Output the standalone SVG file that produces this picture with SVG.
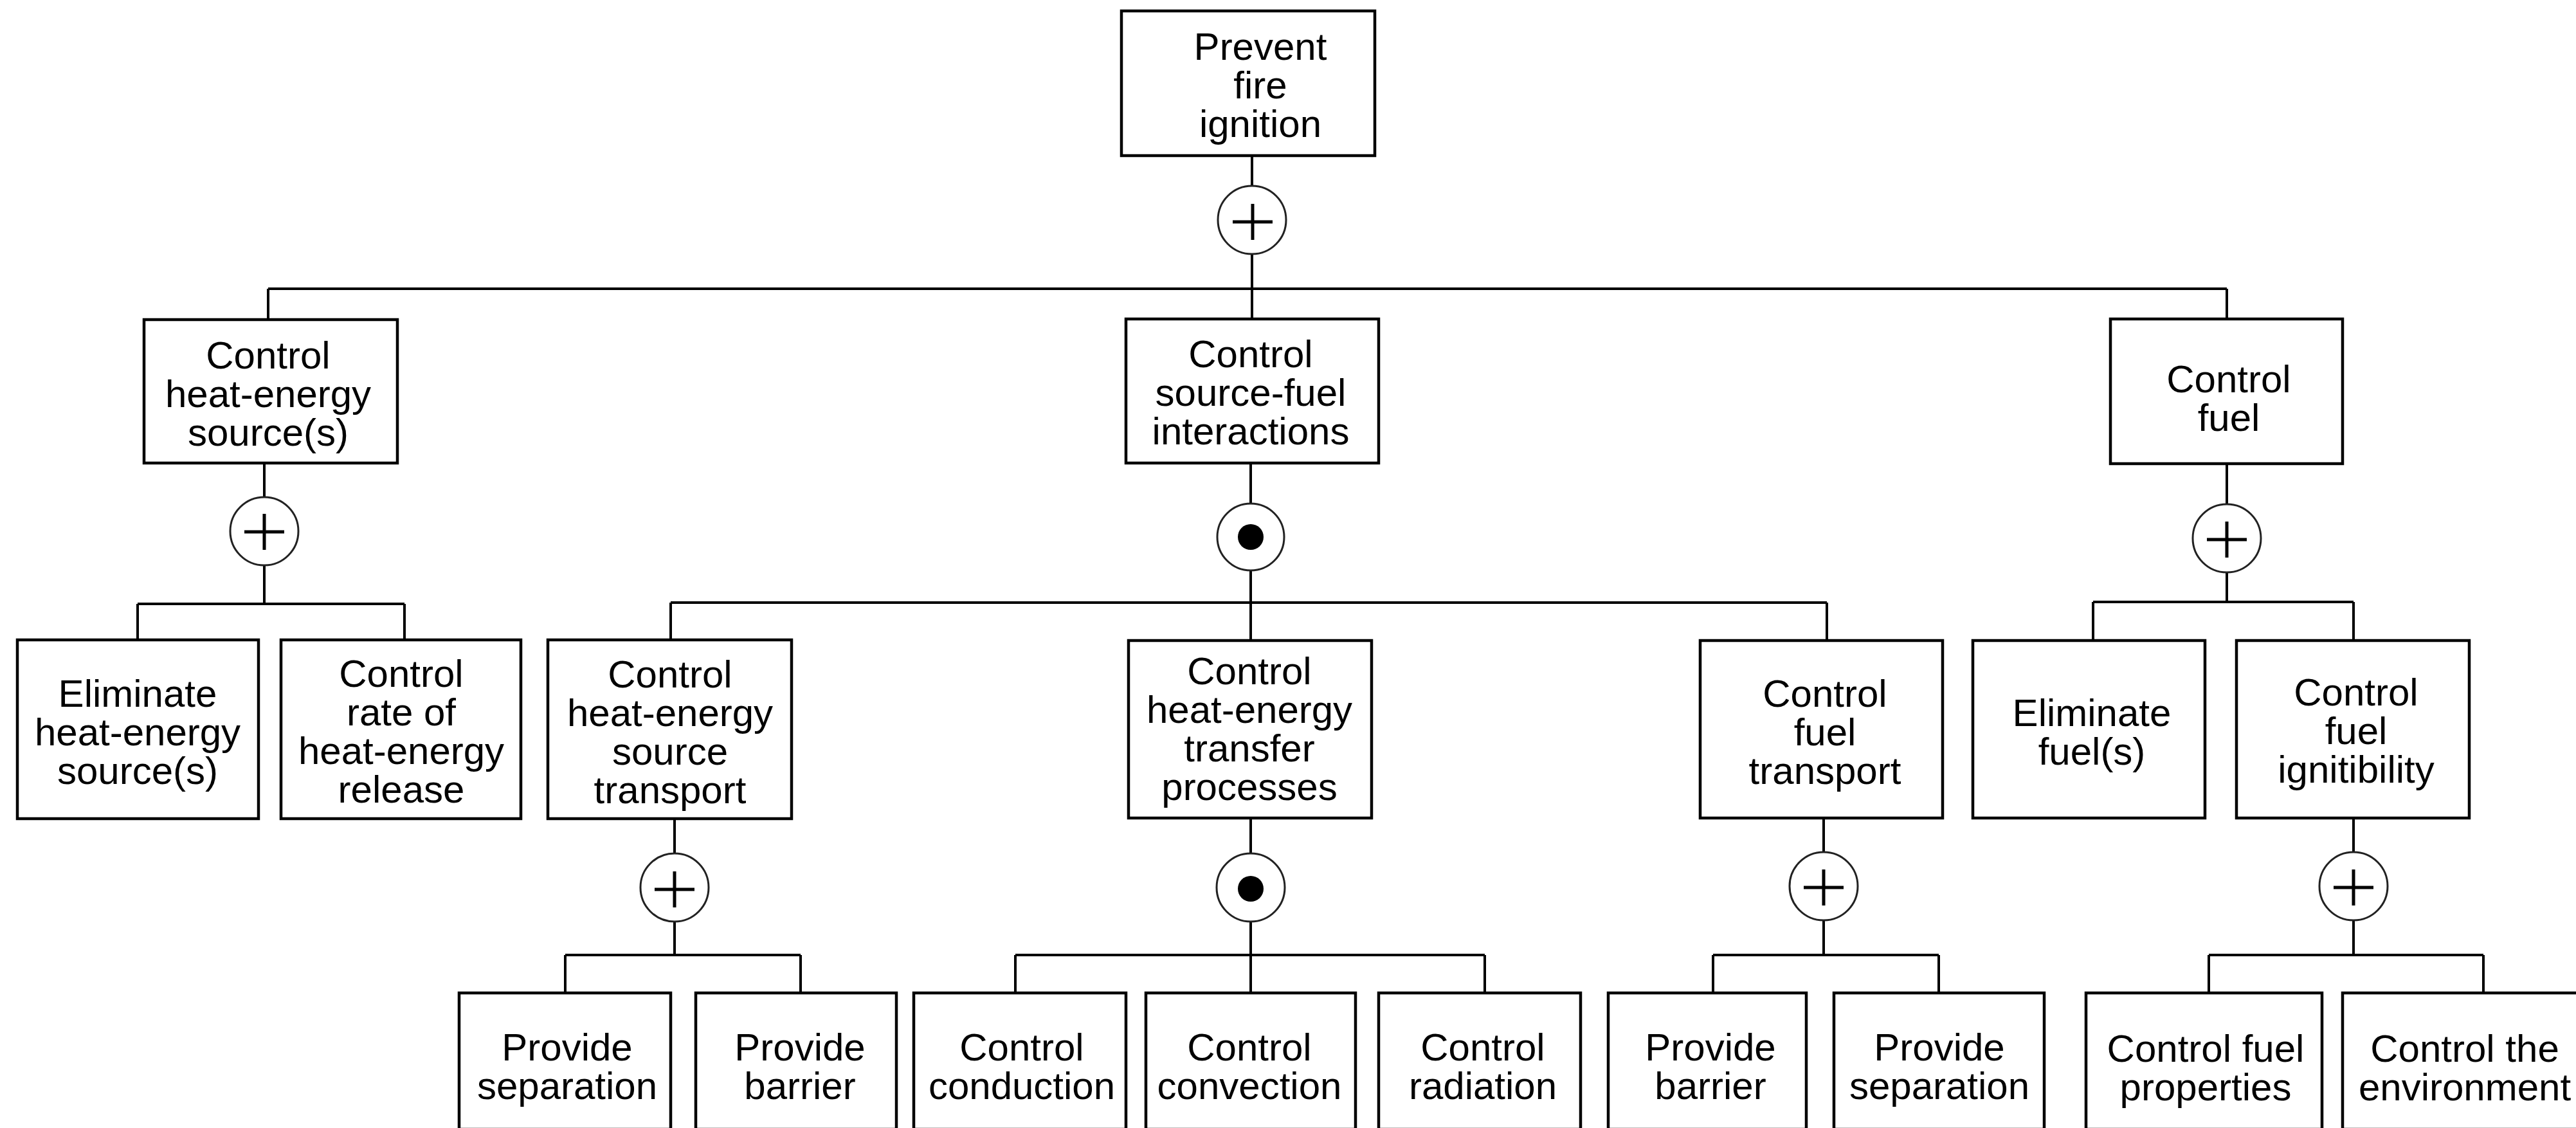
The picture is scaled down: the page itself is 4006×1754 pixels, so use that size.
<svg xmlns="http://www.w3.org/2000/svg" width="4006" height="1754" viewBox="0 0 4006 1754">
<style>
.box{fill:#fff;stroke:#000;stroke-width:4.5}
.ln{fill:none;stroke:#000;stroke-width:4}
.gate{fill:#fff;stroke:#222;stroke-width:3}
.plus{stroke:#000;stroke-width:5;fill:none}
.dot{fill:#000}
text{font-family:"Liberation Sans",Arial,Helvetica,sans-serif;font-size:60px;fill:#000;text-anchor:middle}
</style>
<rect width="4006" height="1754" fill="#fff"/>
<g id="connectors">
<path class="ln" d="M1947 242V289M1947 395V496M417 449H3463M417 449V497M3463 449V496"/>
<path class="ln" d="M411 720V773M411 879V939M214 939H629M214 939V995M629 939V995"/>
<path class="ln" d="M1945 720V783M1945 887V937M1043 937H2841M1043 937V996M2841 937V996M1945 937V996"/>
<path class="ln" d="M3463 721V784M3463 890V936M3255 936H3660M3255 936V996M3660 936V996"/>
<path class="ln" d="M1049 1273V1327M1049 1433V1485M879 1485H1245M879 1485V1544M1245 1485V1544"/>
<path class="ln" d="M1945 1272V1327M1945 1433V1544M1579 1485H2309M1579 1485V1544M2309 1485V1544"/>
<path class="ln" d="M2836 1272V1325M2836 1431V1485M2664 1485H3015M2664 1485V1544M3015 1485V1544"/>
<path class="ln" d="M3660 1272V1325M3660 1431V1485M3435 1485H3862M3435 1485V1544M3862 1485V1544"/>
</g>
<g id="gate-top"><circle class="gate" cx="1947" cy="342" r="53"/><path class="plus" d="M1917 345H1979M1948 317V373"/></g>
<g id="gate-a"><circle class="gate" cx="411" cy="826" r="53"/><path class="plus" d="M380 827H442M411 799V855"/></g>
<g id="gate-b"><circle class="gate" cx="1945" cy="835" r="52"/><circle class="dot" cx="1945" cy="835" r="20"/></g>
<g id="gate-c"><circle class="gate" cx="3463" cy="837" r="53"/><path class="plus" d="M3432 839H3494M3463 811V867"/></g>
<g id="gate-transport"><circle class="gate" cx="1049" cy="1380" r="53"/><path class="plus" d="M1018 1383H1080M1049 1355V1411"/></g>
<g id="gate-transfer"><circle class="gate" cx="1945" cy="1380" r="53"/><circle class="dot" cx="1945" cy="1382" r="20"/></g>
<g id="gate-fueltransport"><circle class="gate" cx="2836" cy="1378" r="53"/><path class="plus" d="M2805 1380H2867M2836 1352V1408"/></g>
<g id="gate-ignit"><circle class="gate" cx="3660" cy="1378" r="53"/><path class="plus" d="M3629 1380H3691M3660 1352V1408"/></g>

<g id="n-prevent"><rect class="box" x="1744" y="17" width="394" height="225"/><text><tspan x="1960" y="93">Prevent</tspan><tspan x="1960" y="153">fire</tspan><tspan x="1960" y="213">ignition</tspan></text></g>
<g id="n-heatsource"><rect class="box" x="224" y="497" width="394" height="223"/><text><tspan x="417" y="573">Control</tspan><tspan x="417" y="633">heat-energy</tspan><tspan x="417" y="693">source(s)</tspan></text></g>
<g id="n-sourcefuel"><rect class="box" x="1751" y="496" width="393" height="224"/><text><tspan x="1945" y="571">Control</tspan><tspan x="1945" y="631">source-fuel</tspan><tspan x="1945" y="691">interactions</tspan></text></g>
<g id="n-fuel"><rect class="box" x="3282" y="496" width="361" height="225"/><text><tspan x="3466" y="610">Control</tspan><tspan x="3466" y="670">fuel</tspan></text></g>

<g id="n-elimsource"><rect class="box" x="27" y="995" width="375" height="278"/><text><tspan x="214" y="1099">Eliminate</tspan><tspan x="214" y="1159">heat-energy</tspan><tspan x="214" y="1219">source(s)</tspan></text></g>
<g id="n-rate"><rect class="box" x="437" y="995" width="373" height="278"/><text><tspan x="624" y="1068">Control</tspan><tspan x="624" y="1128">rate of</tspan><tspan x="624" y="1188">heat-energy</tspan><tspan x="624" y="1248">release</tspan></text></g>
<g id="n-transport"><rect class="box" x="852" y="995" width="379" height="278"/><text><tspan x="1042" y="1069">Control</tspan><tspan x="1042" y="1129">heat-energy</tspan><tspan x="1042" y="1189">source</tspan><tspan x="1042" y="1249">transport</tspan></text></g>
<g id="n-transfer"><rect class="box" x="1755" y="996" width="378" height="276"/><text><tspan x="1943" y="1064">Control</tspan><tspan x="1943" y="1124">heat-energy</tspan><tspan x="1943" y="1184">transfer</tspan><tspan x="1943" y="1244">processes</tspan></text></g>
<g id="n-fueltransport"><rect class="box" x="2644" y="996" width="377" height="276"/><text><tspan x="2838" y="1099">Control</tspan><tspan x="2838" y="1159">fuel</tspan><tspan x="2838" y="1219">transport</tspan></text></g>
<g id="n-elimfuel"><rect class="box" x="3068" y="996" width="361" height="276"/><text><tspan x="3253" y="1129">Eliminate</tspan><tspan x="3253" y="1189">fuel(s)</tspan></text></g>
<g id="n-ignit"><rect class="box" x="3478" y="996" width="362" height="276"/><text><tspan x="3664" y="1097">Control</tspan><tspan x="3664" y="1157">fuel</tspan><tspan x="3664" y="1217">ignitibility</tspan></text></g>

<g id="n-sep1"><rect class="box" x="714" y="1544" width="329" height="212"/><text><tspan x="882" y="1649">Provide</tspan><tspan x="882" y="1709">separation</tspan></text></g>
<g id="n-bar1"><rect class="box" x="1082" y="1544" width="312" height="212"/><text><tspan x="1244" y="1649">Provide</tspan><tspan x="1244" y="1709">barrier</tspan></text></g>
<g id="n-conduction"><rect class="box" x="1421" y="1544" width="330" height="212"/><text><tspan x="1589" y="1649">Control</tspan><tspan x="1589" y="1709">conduction</tspan></text></g>
<g id="n-convection"><rect class="box" x="1782" y="1544" width="326" height="212"/><text><tspan x="1943" y="1649">Control</tspan><tspan x="1943" y="1709">convection</tspan></text></g>
<g id="n-radiation"><rect class="box" x="2144" y="1544" width="314" height="212"/><text><tspan x="2306" y="1649">Control</tspan><tspan x="2306" y="1709">radiation</tspan></text></g>
<g id="n-bar2"><rect class="box" x="2501" y="1544" width="308" height="212"/><text><tspan x="2660" y="1649">Provide</tspan><tspan x="2660" y="1709">barrier</tspan></text></g>
<g id="n-sep2"><rect class="box" x="2852" y="1544" width="327" height="212"/><text><tspan x="3016" y="1649">Provide</tspan><tspan x="3016" y="1709">separation</tspan></text></g>
<g id="n-props"><rect class="box" x="3244" y="1544" width="367" height="212"/><text><tspan x="3430" y="1651">Control fuel</tspan><tspan x="3430" y="1711">properties</tspan></text></g>
<g id="n-env"><rect class="box" x="3643" y="1544" width="400" height="212"/><text><tspan x="3833" y="1651">Control the</tspan><tspan x="3833" y="1711">environment</tspan></text></g>
</svg>
